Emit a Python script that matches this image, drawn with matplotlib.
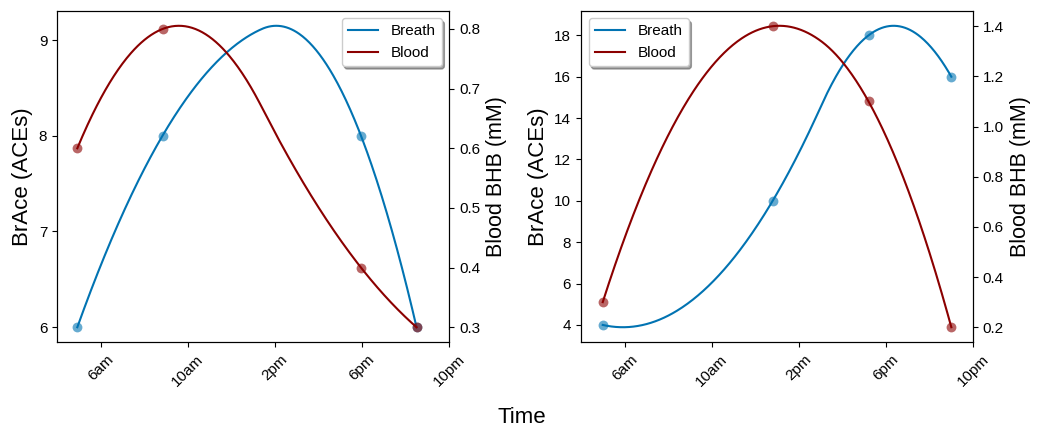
import numpy as np
import matplotlib
matplotlib.use("Agg")
from matplotlib import pyplot as plt
from matplotlib.ticker import MultipleLocator

plt.rcParams['font.family'] = ['Liberation Sans', 'DejaVu Sans']

# hours of the day for each sample
hours_left = [4.93, 8.84, 17.95, 20.5]
breath_left = [6, 8, 8, 6]
blood_left = [0.6, 0.8, 0.4, 0.3]

hours_right = [5.0, 12.8, 17.2, 21.0]
breath_right = [4, 10, 18, 16]
blood_right = [0.3, 1.4, 1.1, 0.2]

tick_hours = [6, 10, 14, 18, 22]
tick_labels = ['6am', '10am', '2pm', '6pm', '10pm']

breath_color = '#0173b2'
blood_color = '#8b0000'


def smooth(x, y):
    # quadratic interpolating spline with one knot between the middle samples
    x = np.asarray(x, float)
    y = np.asarray(y, float)
    m = (x[1] + x[2]) / 2
    d = x - m
    A = np.column_stack([np.ones(4), d, np.where(d < 0, d**2, 0), np.where(d >= 0, d**2, 0)])
    a, b, c1, c2 = np.linalg.solve(A, y)
    xs = np.linspace(x[0], x[-1], 400)
    ds = xs - m
    return xs, a + b * ds + np.where(ds < 0, c1, c2) * ds**2


fig = plt.figure(figsize=(10.43, 4.34), dpi=100)
ax1 = fig.add_axes([0.0547, 0.2113, 0.376, 0.764])
ax2 = fig.add_axes([0.557, 0.2113, 0.376, 0.764])

panels = [
    (ax1, hours_left, breath_left, blood_left, 'upper right', 1),
    (ax2, hours_right, breath_right, blood_right, 'upper left', 2),
]

for ax, hrs, br, bl, loc, step in panels:
    tw = ax.twinx()
    xs, ys = smooth(hrs, br)
    l1, = ax.plot(xs, ys, color=breath_color, lw=1.5, label='Breath')
    ax.scatter(hrs, br, color=breath_color, alpha=0.6, s=50, lw=0)
    xs, ys = smooth(hrs, bl)
    l2, = tw.plot(xs, ys, color=blood_color, lw=1.5, label='Blood')
    tw.scatter(hrs, bl, color=blood_color, alpha=0.6, s=50, lw=0)

    ax.set_xlim(4, 22)
    ax.set_xticks(tick_hours)
    ax.set_xticklabels(tick_labels, rotation=45, fontsize=11)
    ax.yaxis.set_major_locator(MultipleLocator(step))
    ax.tick_params(axis='y', labelsize=11)
    tw.tick_params(axis='y', labelsize=11)
    ax.set_ylabel('BrAce (ACEs)', fontsize=16)
    tw.set_ylabel('Blood BHB (mM)', fontsize=15.5)
    tw.legend([l1, l2], ['Breath', 'Blood'], loc=loc, shadow=True,
              fancybox=True, fontsize=11)

fig.text(0.5, 0.025, 'Time', ha='center', fontsize=16)

fig.savefig('out.png', dpi=100)
